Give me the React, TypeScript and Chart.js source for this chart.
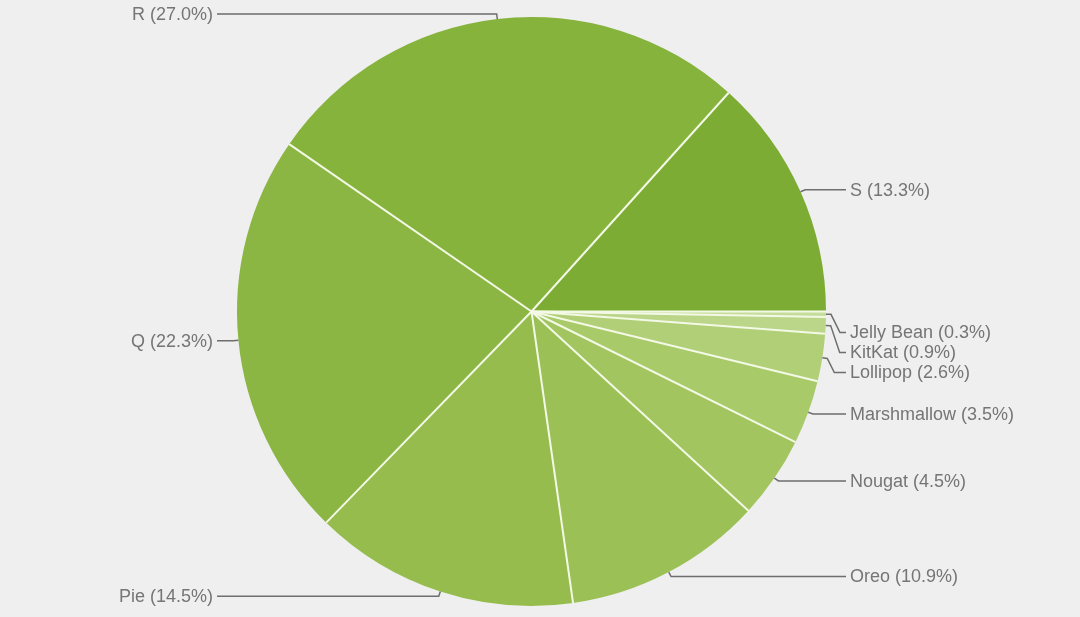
import React, { useEffect, useRef } from "react";
import { Chart, registerables } from "chart.js";

Chart.register(...registerables);

const versions = ["Jelly Bean", "KitKat", "Lollipop", "Marshmallow", "Nougat", "Oreo", "Pie", "Q", "R", "S"];
const shares = [0.3, 0.9, 2.6, 3.5, 4.5, 10.9, 14.5, 22.3, 27.0, 13.3];
const sliceColors = ["#c6dc9b", "#bbd589", "#b1cf77", "#a9ca69", "#a2c560", "#9bc156", "#95bc4d", "#8bb643", "#86b33c", "#7dac34"];

const BG = "#efefef";

const labelPlugin = {
  id: "pieLabels",
  afterDatasetsDraw(chart: any) {
    const ctx = chart.ctx;
    const meta = chart.getDatasetMeta(0);
    const arcs = meta.data;
    if (!arcs.length) return;
    const cx = arcs[0].x;
    const cy = arcs[0].y;
    const R = arcs[0].outerRadius;

    // separators
    ctx.save();
    ctx.strokeStyle = "#f3f9e6";
    ctx.lineWidth = 2;
    arcs.forEach((a: any) => {
      ctx.beginPath();
      ctx.moveTo(cx, cy);
      ctx.lineTo(cx + R * Math.cos(a.startAngle), cy + R * Math.sin(a.startAngle));
      ctx.stroke();
    });
    ctx.restore();

    const gap = 20;
    const items = arcs.map((a: any, i: number) => {
      const mid = (a.startAngle + a.endAngle) / 2;
      const side = Math.cos(mid) >= 0 ? 1 : -1;
      let ny = cy + (R + 5) * Math.sin(mid);
      if (ny > cy && ny < cy + gap * 1.05) ny = cy + gap * 1.05;
      if (ny < cy && ny > cy - gap * 1.05) ny = cy - gap * 1.05;
      return { i, mid, side, ny, y: ny };
    });
    [1, -1].forEach((s) => {
      const list = items.filter((it: any) => it.side === s).sort((a: any, b: any) => a.ny - b.ny);
      for (let k = 1; k < list.length; k++) {
        if (list[k].y < list[k - 1].y + gap) list[k].y = list[k - 1].y + gap;
      }
    });

    ctx.save();
    ctx.font = '18px "Liberation Sans", Arial, sans-serif';
    ctx.textBaseline = "middle";
    items.forEach((it: any) => {
      const { mid, side, y } = it;
      const px = cx + R * Math.cos(mid);
      const py = cy + R * Math.sin(mid);
      const b1x = cx + (R + 5) * Math.cos(mid);
      const b1y = cy + (R + 5) * Math.sin(mid);
      const dy = Math.abs(y - b1y);
      const b2x = b1x + side * Math.min(dy * 0.5, 9);
      const textX = cx + side * (R + 24);
      ctx.strokeStyle = "#6e6e6e";
      ctx.lineWidth = 1.5;
      ctx.beginPath();
      ctx.moveTo(px, py);
      ctx.lineTo(b1x, b1y);
      ctx.lineTo(b2x, y);
      ctx.lineTo(textX - side * 4, y);
      ctx.stroke();
      ctx.fillStyle = "#757575";
      ctx.textAlign = side > 0 ? "left" : "right";
      ctx.fillText(`${versions[it.i]} (${shares[it.i].toFixed(1)}%)`, textX, y + 1);
    });
    ctx.restore();
  },
};

export default function App() {
  const ref = useRef<HTMLCanvasElement | null>(null);
  useEffect(() => {
    document.body.style.margin = "0";
    document.body.style.background = BG;
    const chart = new Chart(ref.current as HTMLCanvasElement, {
      type: "pie",
      data: {
        labels: versions,
        datasets: [
          {
            data: shares,
            backgroundColor: sliceColors,
            borderWidth: 0,
            hoverOffset: 0,
          },
        ],
      },
      options: {
        animation: false,
        responsive: true,
        maintainAspectRatio: false,
        rotation: 90,
        layout: { padding: { top: 17, bottom: 11, left: 237, right: 254 } },
        plugins: { legend: { display: false }, tooltip: { enabled: false } },
        events: [],
      },
      plugins: [labelPlugin],
    });
    return () => chart.destroy();
  }, []);
  return (
    <div style={{ position: "absolute", left: 0, top: 0, width: 1080, height: 617, background: BG }}>
      <canvas ref={ref} />
    </div>
  );
}
